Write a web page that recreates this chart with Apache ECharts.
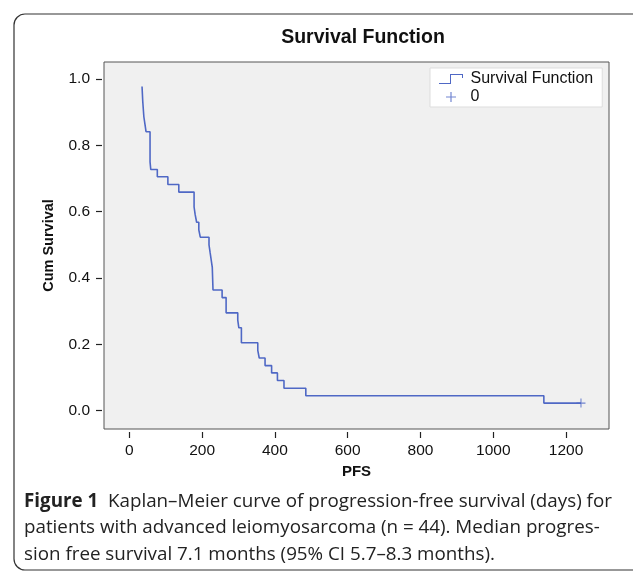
<!DOCTYPE html>
<html>
<head>
<meta charset="utf-8">
<script src="https://cdn.jsdelivr.net/npm/echarts@6/dist/echarts.min.js"></script>
<style>
html,body{margin:0;padding:0;background:#fff;}
#c{width:633px;height:573px;}
</style>
</head>
<body>
<div id="c"></div>
<script>
// Kaplan–Meier step points: day of each drop and survival level after it
const pfsDays = [35, 37, 40, 43, 46, 57, 59, 77, 106, 136, 178, 181, 185, 191, 195,
  219, 222, 225, 228, 230, 255, 266, 298, 301, 308, 353, 357, 373, 391, 407, 425, 485, 1139, 1241];
const cumSurvival = [0.977, 0.932, 0.886, 0.864, 0.841, 0.750, 0.727, 0.705, 0.682, 0.659,
  0.614, 0.591, 0.568, 0.545, 0.523, 0.500, 0.477, 0.455, 0.432, 0.364, 0.341, 0.295,
  0.273, 0.250, 0.205, 0.182, 0.159, 0.136, 0.114, 0.091, 0.068, 0.045, 0.023, 0.023];
// censored observations
const censorDays = [1241];
const censorSurvival = [0.023];

const xTicks = [0, 200, 400, 600, 800, 1000, 1200];
const yTicks = [0.0, 0.2, 0.4, 0.6, 0.8, 1.0];

const blue = '#4f68c5';
const chart = echarts.init(document.getElementById('c'), null, {renderer: 'canvas'});

const stepIcon = 'path://M0,9 L11,9 L11,0 L24,0 L24,4 L23,4 L23,1 L12,1 L12,10 L0,10 Z';
const crossIcon = 'path://M4.4,0 L5.6,0 L5.6,4.4 L10,4.4 L10,5.6 L5.6,5.6 L5.6,10 L4.4,10 L4.4,5.6 L0,5.6 L0,4.4 L4.4,4.4 Z';
const sans = 'Liberation Sans, Arial, sans-serif';

chart.setOption({
  animation: false,
  backgroundColor: '#fff',
  textStyle: {fontFamily: sans},
  title: [{
    text: 'Survival Function',
    left: 358, top: 23, textAlign: 'center',
    textStyle: {fontSize: 19.5, fontWeight: 'bold', color: '#111', fontFamily: sans}
  }, {
    text: '{b|Figure 1}  Kaplan–Meier curve of progression-free survival (days) for\npatients with advanced leiomyosarcoma (n = 44). Median progres-\nsion free survival 7.1 months (95% CI 5.7–8.3 months).',
    left: 19, top: 483,
    textStyle: {
      fontSize: 18.8, fontWeight: 'normal', color: '#222', lineHeight: 26.5,
      fontFamily: 'Open Sans, sans-serif',
      rich: {b: {fontSize: 18.8, fontWeight: 'bold', color: '#222', fontFamily: 'Open Sans, sans-serif', lineHeight: 26.5}}
    }
  }],
  legend: {
    orient: 'vertical',
    left: 430, top: 68,
    padding: [3, 9, 2, 9],
    backgroundColor: '#fff',
    borderColor: '#ddd', borderWidth: 1,
    itemGap: 2, itemWidth: 29, itemHeight: 10,
    textStyle: {fontSize: 16, color: '#111', fontFamily: sans},
    data: [
      {name: 'Survival Function', icon: stepIcon},
      {name: '0', icon: crossIcon}
    ]
  },
  grid: {
    left: 104, right: 24, top: 62, bottom: 144,
    show: true, backgroundColor: '#f0f0f0', borderColor: '#555', borderWidth: 1
  },
  xAxis: {
    type: 'value', min: -69.5, max: 1318,
    name: 'PFS', nameLocation: 'middle', nameGap: 29,
    nameTextStyle: {fontSize: 15, fontWeight: 'bold', color: '#111'},
    offset: 3,
    axisLine: {show: false, onZero: false},
    axisTick: {show: true, length: 6, lineStyle: {color: '#222', width: 1.2}, customValues: xTicks},
    axisLabel: {customValues: xTicks, fontSize: 15.5, color: '#111', margin: 11,
      formatter: v => String(v)},
    splitLine: {show: false}
  },
  yAxis: {
    type: 'value', min: -0.055, max: 1.051,
    name: 'Cum Survival', nameLocation: 'middle', nameGap: 46,
    nameTextStyle: {fontSize: 14.5, fontWeight: 'bold', color: '#111'},
    offset: 2,
    axisLine: {show: false, onZero: false},
    axisTick: {show: true, length: 6, lineStyle: {color: '#222', width: 1.2}, customValues: yTicks},
    axisLabel: {customValues: yTicks, fontSize: 15.5, color: '#111', margin: 12,
      formatter: v => v.toFixed(1)},
    splitLine: {show: false}
  },
  graphic: [{
    type: 'rect', silent: true, z: -1,
    shape: {x: 14, y: 14, width: 640, height: 556, r: 11},
    style: {fill: 'none', stroke: '#333', lineWidth: 1.2}
  }],
  series: [{
    name: 'Survival Function', type: 'line', step: 'end',
    showSymbol: false, symbol: 'none',
    color: blue,
    lineStyle: {color: blue, width: 1.6},
    data: pfsDays.map((d, i) => [d, cumSurvival[i]])
  }, {
    name: '0', type: 'scatter',
    symbol: crossIcon, symbolSize: 9,
    color: blue,
    itemStyle: {color: blue},
    data: censorDays.map((d, i) => [d, censorSurvival[i]])
  }]
});
</script>
</body>
</html>
